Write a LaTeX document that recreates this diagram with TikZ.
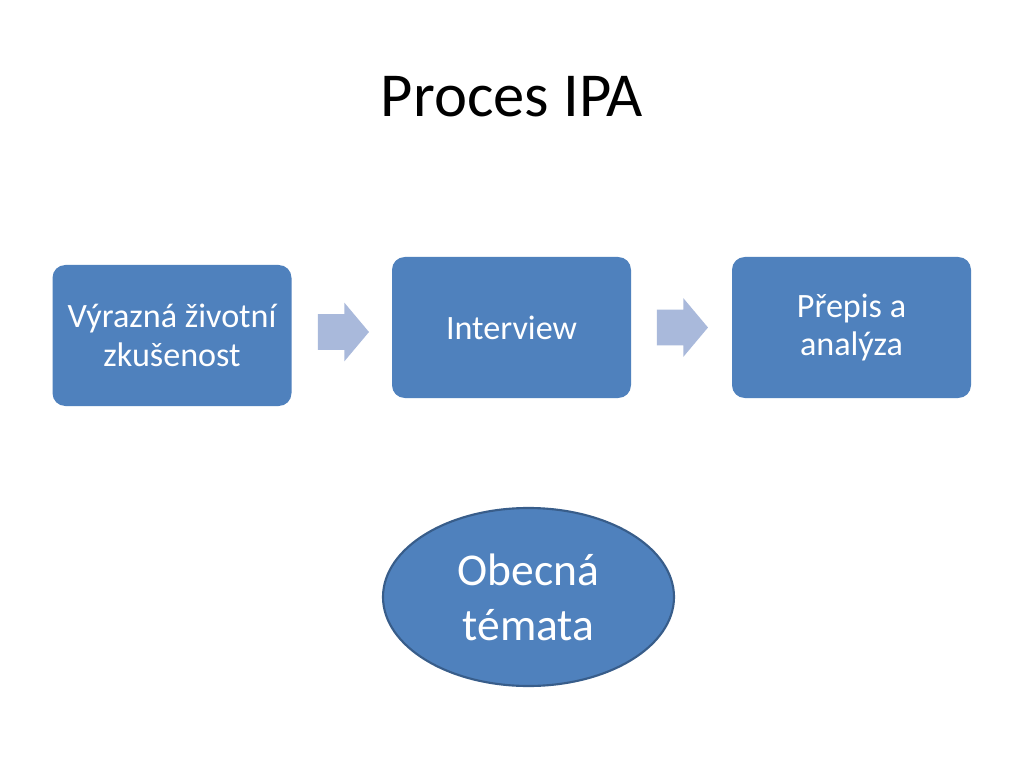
\documentclass[tikz,border=0pt]{standalone}
\usepackage{fontspec}
\setmainfont{Carlito}
\usepackage{tikz}
\usetikzlibrary{shapes,shapes.geometric,shapes.arrows}
\definecolor{boxblue}{HTML}{4F81BD}
\definecolor{edgeblue}{HTML}{385D8A}
\definecolor{arrowblue}{HTML}{A9B9DB}
\begin{document}
\begin{tikzpicture}[x=0.703125pt,y=-0.703125pt]
			\tikzset{stepbox/.style={rectangle,rounded corners=9pt,fill=boxblue,text=white,align=center,minimum width=239*0.703125pt,minimum height=141*0.703125pt,inner sep=0pt,font=\fontsize{24}{27}\selectfont}}
			\tikzset{blockarrow/.style={single arrow,fill=arrowblue,inner xsep=0pt,inner ysep=17.5*0.703125pt,minimum height=51*0.703125pt,single arrow head extend=11.5*0.703125pt,single arrow tip angle=100}}
			\fill[white] (0,0) rectangle (1024,768);
			\node[font=\fontsize{44}{52}\selectfont] (title) at (512,97) {Proces IPA};
			\node[stepbox] (zkusenost) at (172,335.5) {Výrazná životní\\zkušenost};
			\node[stepbox] (interview) at (511.5,327.5) {Interview};
			\node[stepbox] (analyza) at (851.5,327.5) {Přepis a\\analýza};
			\node[blockarrow] (arrowa) at (336,332) {};
			\node[blockarrow] (arrowb) at (675,327.5) {};
			\node[ellipse,fill=boxblue,draw=edgeblue,line width=1.5pt,text=white,align=center,minimum width=291*0.703125pt,minimum height=178*0.703125pt,inner sep=0pt,font=\fontsize{32}{38.5}\selectfont] (temata) at (528.5,597) {Obecná\\témata};
		\end{tikzpicture}
\end{document}
